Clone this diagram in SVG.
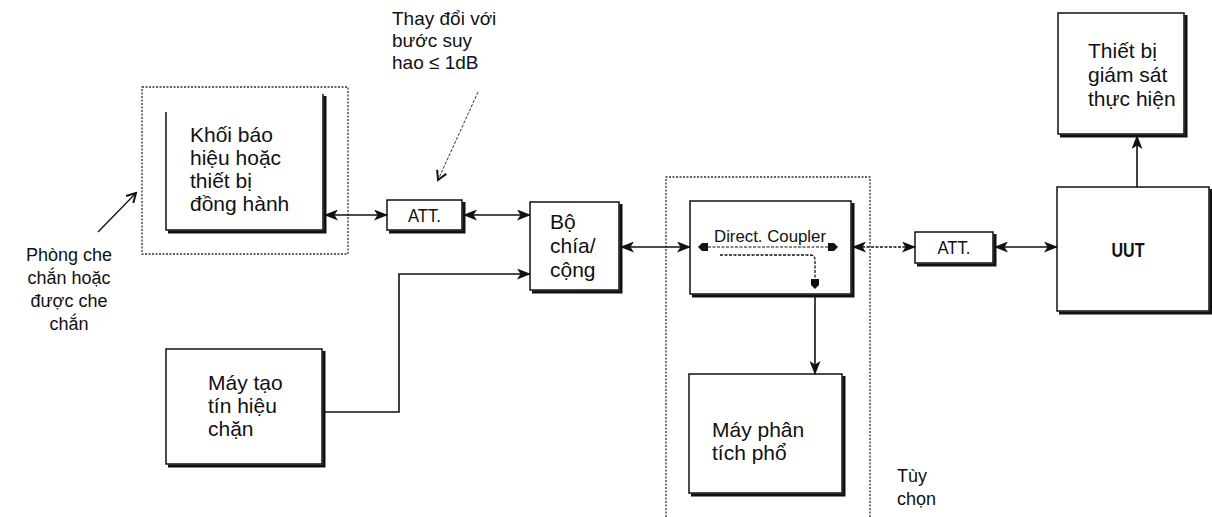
<svg xmlns="http://www.w3.org/2000/svg" width="1212" height="517" viewBox="0 0 1212 517">
<style>
.t{font-family:"Liberation Sans",Arial,sans-serif;font-size:21px;fill:#111}
.l{font-family:"Liberation Sans",Arial,sans-serif;font-size:18px;fill:#111}
.l19{font-family:"Liberation Sans",Arial,sans-serif;font-size:19px;fill:#111}
.n{font-family:"Liberation Sans",Arial,sans-serif;fill:#111}
.box{fill:#fff;stroke:#111;stroke-width:1.5}
.sh{fill:none;stroke:#111;stroke-width:3}
.dash{fill:none;stroke:#333;stroke-width:1.3;stroke-dasharray:2 1.5}
.c{fill:none;stroke:#111;stroke-width:1.6}
</style>
<defs>
<marker id="ah" viewBox="0 0 14 11" refX="13" refY="5.5" markerWidth="14" markerHeight="11" markerUnits="userSpaceOnUse" orient="auto-start-reverse">
<path d="M0,0 L14,5.5 L0,11 L3.5,5.5 z" fill="#111"/>
</marker>
<marker id="dh" viewBox="0 0 10 8" refX="9" refY="4" markerWidth="10" markerHeight="8" markerUnits="userSpaceOnUse" orient="auto-start-reverse">
<path d="M0,0 L6,0 L10,4 L6,8 L0,8 z" fill="#111"/>
</marker>
<marker id="oh" viewBox="0 0 12 12" refX="10" refY="6" markerWidth="12" markerHeight="12" markerUnits="userSpaceOnUse" orient="auto">
<path d="M1,1 L10,6 L1,11" fill="none" stroke="#111" stroke-width="2"/>
</marker>
</defs>

<g id="shield-room">
<rect x="142" y="87" width="206" height="167" class="dash"/>
</g>
<g id="optional-region">
<path d="M666,517 L666,177 L870,177 L870,517" class="dash"/>
</g>

<g id="signal-block">
<path d="M166,112 L166,230 L323,230 L323,94" class="box" fill="#fff"/>
<path d="M168,232 L325,232 L325,96" class="sh"/>
<text class="t" x="190" y="142">Khối báo</text>
<text class="t" x="190" y="165">hiệu hoặc</text>
<text class="t" x="190" y="188">thiết bị</text>
<text class="t" x="190" y="211">đồng hành</text>
</g>

<g id="att1">
<rect x="387" y="200" width="75" height="30" class="box"/>
<path d="M389,232 L464,232 L464,202" class="sh"/>
<text class="n" x="424.5" y="222" font-size="19" text-anchor="middle" textLength="33" lengthAdjust="spacingAndGlyphs">ATT.</text>
</g>

<g id="splitter">
<rect x="530" y="202" width="89" height="88" class="box"/>
<path d="M532,292 L621,292 L621,204" class="sh"/>
<text class="t" x="550" y="229">Bộ</text>
<text class="t" x="550" y="253">chía/</text>
<text class="t" x="550" y="277">cộng</text>
</g>

<g id="interferer">
<rect x="166" y="349" width="156" height="115" class="box"/>
<path d="M168,466 L324,466 L324,351" class="sh"/>
<text class="t" x="208" y="390">Máy tạo</text>
<text class="t" x="208" y="413">tín hiệu</text>
<text class="t" x="208" y="436">chặn</text>
</g>

<g id="coupler">
<rect x="690" y="201" width="161" height="93" class="box"/>
<path d="M692,296 L853,296 L853,203" class="sh"/>
<text class="n" x="770" y="242" font-size="17" text-anchor="middle" textLength="112" lengthAdjust="spacingAndGlyphs">Direct. Coupler</text>
<line x1="699" y1="247" x2="837" y2="247" stroke="#111" stroke-width="1.2" stroke-dasharray="3 1.5" marker-start="url(#dh)" marker-end="url(#dh)"/>
<path d="M720,255 L810,255 Q815,255 815,260 L815,288" fill="none" stroke="#111" stroke-width="1.3" stroke-dasharray="3 1.5" marker-end="url(#dh)"/>
</g>

<g id="analyzer">
<rect x="689" y="374" width="153" height="119" class="box"/>
<path d="M691,495 L844,495 L844,376" class="sh"/>
<text class="t" x="712" y="437">Máy phân</text>
<text class="t" x="712" y="460">tích phổ</text>
</g>

<g id="att2">
<rect x="915" y="232" width="78" height="31" class="box"/>
<path d="M917,265 L995,265 L995,234" class="sh"/>
<text class="n" x="954" y="254" font-size="19" text-anchor="middle" textLength="33" lengthAdjust="spacingAndGlyphs">ATT.</text>
</g>

<g id="uut">
<rect x="1057" y="187" width="152" height="124" class="box"/>
<path d="M1059,313 L1211,313 L1211,189" class="sh"/>
<text class="n" x="1128" y="257" font-size="20" font-weight="bold" text-anchor="middle" textLength="33" lengthAdjust="spacingAndGlyphs">UUT</text>
</g>

<g id="monitor">
<rect x="1058" y="13" width="126" height="121" class="box"/>
<path d="M1060,136 L1186,136 L1186,15" class="sh"/>
<text class="t" x="1088" y="58">Thiết bị</text>
<text class="t" x="1088" y="82">giám sát</text>
<text class="t" x="1088" y="106">thực hiện</text>
</g>

<g id="labels">
<text class="l19" x="392" y="25">Thay đổi với</text>
<text class="l19" x="392" y="47">bước suy</text>
<text class="l19" x="392" y="69">hao ≤ 1dB</text>
<text class="l" x="69" y="261" text-anchor="middle">Phòng che</text>
<text class="l" x="69" y="284" text-anchor="middle">chắn hoặc</text>
<text class="l" x="69" y="307" text-anchor="middle">được che</text>
<text class="l" x="69" y="330" text-anchor="middle">chắn</text>
<text class="l" x="897" y="482">Tùy</text>
<text class="l" x="897" y="505">chọn</text>
</g>

<g id="connectors">
<line x1="325" y1="215" x2="387" y2="215" class="c" marker-start="url(#ah)" marker-end="url(#ah)"/>
<line x1="464" y1="215" x2="530" y2="215" class="c" marker-start="url(#ah)" marker-end="url(#ah)"/>
<polyline points="324,412 399,412 399,274 530,274" class="c" marker-end="url(#ah)"/>
<line x1="621" y1="247" x2="690" y2="247" class="c" marker-start="url(#ah)" marker-end="url(#ah)"/>
<line x1="853" y1="247" x2="915" y2="247" class="c" stroke-dasharray="3 1.5" marker-start="url(#ah)" marker-end="url(#ah)"/>
<line x1="995" y1="247" x2="1057" y2="247" class="c" marker-start="url(#ah)" marker-end="url(#ah)"/>
<line x1="815" y1="296" x2="815" y2="374" class="c" marker-end="url(#ah)"/>
<line x1="1137" y1="187" x2="1137" y2="136" class="c" marker-end="url(#ah)"/>
<line x1="478" y1="92" x2="438" y2="180" stroke="#333" stroke-width="1" stroke-dasharray="3 1.5" marker-end="url(#oh)"/>
<line x1="98" y1="232" x2="136" y2="193" stroke="#111" stroke-width="1.3" marker-end="url(#oh)"/>
</g>
</svg>
